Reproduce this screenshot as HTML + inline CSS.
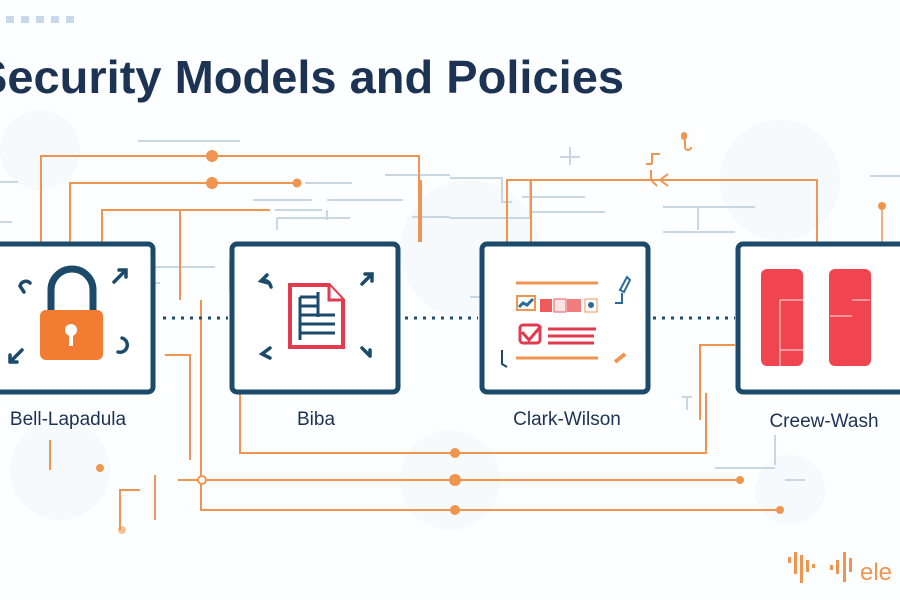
<!DOCTYPE html>
<html><head><meta charset="utf-8"><style>
html,body{margin:0;padding:0;background:#fff;}
svg{display:block;}
text{font-family:"Liberation Sans",sans-serif;}
</style></head><body>
<svg width="900" height="600" viewBox="0 0 900 600" xmlns="http://www.w3.org/2000/svg">
<rect width="900" height="600" fill="#fdfeff"/>
<g fill="#f1f6fa" opacity="0.6">
<circle cx="470" cy="250" r="70"/><circle cx="780" cy="180" r="60"/><circle cx="450" cy="480" r="50"/><circle cx="790" cy="490" r="35"/><circle cx="60" cy="470" r="50"/><circle cx="40" cy="150" r="40"/>
</g>
<g fill="#c6d9e8"><rect x="6" y="16" width="8" height="7"/><rect x="21" y="16" width="8" height="7"/><rect x="36" y="16" width="8" height="7"/><rect x="51" y="16" width="8" height="7"/><rect x="66" y="16" width="8" height="7"/></g>
<text x="-24" y="93" font-size="46" font-weight="bold" fill="#1d3354" textLength="648" lengthAdjust="spacingAndGlyphs">Security Models and Policies</text>
<g stroke="#c9d7e3" stroke-width="2" fill="none">
<path d="M138 141H240"/><path d="M0 182H18"/><path d="M0 222H12"/><path d="M305 183H352"/><path d="M253 200H312"/><path d="M275 210H322M327 210V220M327 200H403"/><path d="M277 218H350M277 218V230"/><path d="M385 175H450M412 217H450"/>
<path d="M450 178H502V202H512M450 218H530V180"/><path d="M522 197H585"/><path d="M531 212H605"/><path d="M663 207H755M698 207V230M663 232H735"/>
<path d="M870 176H900"/><path d="M155 267H215M155 283H160"/><path d="M470 297H520"/><path d="M775 435V465M715 468H775"/><path d="M560 157H580M570 147V165"/><path d="M682 397H692M687 397V410"/>
<path d="M230 260V290M785 480H805"/>
</g>
<g stroke="#f0954f" stroke-width="2" fill="none">
<path d="M41 242V156H419V242"/><path d="M70 242V183H297"/><path d="M102 242V210H270M180 210V300"/>
<path d="M507 242V180H817V242M531 242V180"/><path d="M660 180l8 -6M660 180l8 6"/>
<path d="M240 393V453H706V393"/><path d="M178 480H740"/><path d="M201 300V510H780"/>
<path d="M700 420V345H735"/><path d="M421 180V242"/><path d="M165 355H190V460"/>
<path d="M50 470V440M120 530V490H140"/><path d="M155 475V520"/>
</g>
<g fill="#f0954f">
<circle cx="212" cy="156" r="6"/><circle cx="212" cy="183" r="6"/><circle cx="297" cy="183" r="4.5"/>
<circle cx="455" cy="453" r="5"/><circle cx="455" cy="480" r="6"/><circle cx="455" cy="510" r="5"/>
<circle cx="740" cy="480" r="4"/><circle cx="780" cy="510" r="4"/><circle cx="882" cy="206" r="4"/><circle cx="100" cy="468" r="4"/>
<circle cx="122" cy="530" r="4" opacity="0.6"/>
</g>
<circle cx="202" cy="480" r="4" fill="#fff" stroke="#f0954f" stroke-width="2"/>
<path d="M882 206V242" stroke="#f0954f" stroke-width="1.5"/>
<path d="M685 140V147M685 147a3 3 0 1 0 6 0" stroke="#f0954f" stroke-width="2" fill="none"/>
<rect x="681" y="132" width="6" height="8" rx="3" fill="#f0954f"/>
<path d="M646 164h6M652 164V154h8M651 170V180l6 6" stroke="#f0954f" stroke-width="2" fill="none"/>
<g stroke="#1d4e6f" stroke-width="3" stroke-dasharray="3 6" fill="none">
<path d="M163 318H228"/><path d="M405 318H478"/><path d="M653 318H735"/>
</g>
<g fill="#fff" stroke="#1c4a6a" stroke-width="5">
<rect x="-10" y="244" width="163" height="148" rx="5"/>
<rect x="232" y="244" width="166" height="148" rx="5"/>
<rect x="482" y="244" width="166" height="148" rx="5"/>
<rect x="738" y="244" width="180" height="148" rx="5"/>
</g>
<path d="M51 315V290a21 21 0 0 1 42 0V315" stroke="#1c4a6a" stroke-width="7" fill="none"/>
<rect x="40" y="310" width="63" height="50" rx="6" fill="#f27c32"/>
<circle cx="71" cy="330" r="6" fill="#fff"/><rect x="69" y="332" width="4" height="14" fill="#fff"/>
<g stroke="#1c4a6a" stroke-width="3.5" fill="none" stroke-linecap="round">
<path d="M30 283a6 6 0 0 0 -10 3l4 6"/><path d="M114 282l12 -12M119 270h7v7"/>
<path d="M10 362l12 -12M10 362v-7M10 362h7"/><path d="M122 338a7 7 0 0 1 -4 14"/>
<path d="M268 283l-7 -2l6 -6M261 281q8 -2 10 6"/><path d="M362 284l10 -10M365 274h7v7"/>
<path d="M270 348l-8 6 8 4"/><path d="M362 348l8 8M370 356v-6"/>
</g>
<path d="M290 285h39l14 15v47h-53z" fill="#fff" stroke="#e23a4e" stroke-width="4"/>
<path d="M329 285v15h14" fill="#fff" stroke="#e23a4e" stroke-width="3"/>
<g stroke="#1c4a6a" stroke-width="3"><path d="M300 297v43M300 297h18M300 306h18M300 315h35M300 324h35M300 333h35"/><path d="M318 292v25"/></g>
<g stroke="#f0954f" stroke-width="3"><path d="M516 283h82M516 358h82"/></g>
<rect x="517" y="296" width="18" height="14" fill="#fff" stroke="#f0954f" stroke-width="2"/>
<path d="M519 307l4-4 4 2 6-6" stroke="#2a6b9a" stroke-width="3" fill="none"/>
<rect x="540" y="299" width="12" height="13" fill="#ef5a5a"/><rect x="554" y="299" width="12" height="13" fill="#fde3e3" stroke="#ef5a5a"/><rect x="567" y="299" width="14" height="13" fill="#ef5a5a" opacity="0.8"/>
<rect x="585" y="299" width="12" height="13" fill="#fff" stroke="#f0954f"/><circle cx="591" cy="305" r="3" fill="#2a6b9a"/>
<rect x="520" y="325" width="20" height="18" rx="3" fill="#fff" stroke="#e23a4e" stroke-width="3"/>
<path d="M522 332l7 8 12-14" stroke="#e23a4e" stroke-width="3" fill="none"/>
<g stroke="#e23a4e" stroke-width="3"><path d="M548 329h48M548 336h46M548 343h46"/></g>
<path d="M615 303h7v-10M620 290l7-13 3 3-6 12z" stroke="#2a6b9a" stroke-width="2" fill="none"/>
<path d="M615 362l10-8" stroke="#f0954f" stroke-width="4"/>
<path d="M502 350v14l5 3" stroke="#1c4a6a" stroke-width="2" fill="none"/>
<rect x="761" y="269" width="42" height="97" rx="6" fill="#f04450"/>
<rect x="829" y="269" width="42" height="97" rx="6" fill="#f04450"/>
<g stroke="#ffb0b0" stroke-width="1.5"><path d="M780 300h23M780 350h23M780 300v66M830 316h22M870 300h-18"/></g>
<g font-size="19" fill="#1d3354" text-anchor="middle">
<text x="68" y="425">Bell-Lapadula</text><text x="316" y="425">Biba</text><text x="567" y="425">Clark-Wilson</text><text x="824" y="427">Creew-Wash</text>
</g>
<g fill="#f0954f">
<rect x="788" y="557" width="3" height="6"/><rect x="794" y="552" width="3" height="22"/><rect x="800" y="555" width="3" height="28"/><rect x="806" y="560" width="3" height="12"/><rect x="812" y="564" width="3" height="4"/><rect x="830" y="565" width="3" height="5"/><rect x="836" y="560" width="3" height="14"/><rect x="843" y="552" width="3" height="30"/><rect x="849" y="558" width="3" height="14"/>
</g>
<text x="860" y="580" font-size="24" fill="#f0954f">ele</text>
</svg>
</body></html>
